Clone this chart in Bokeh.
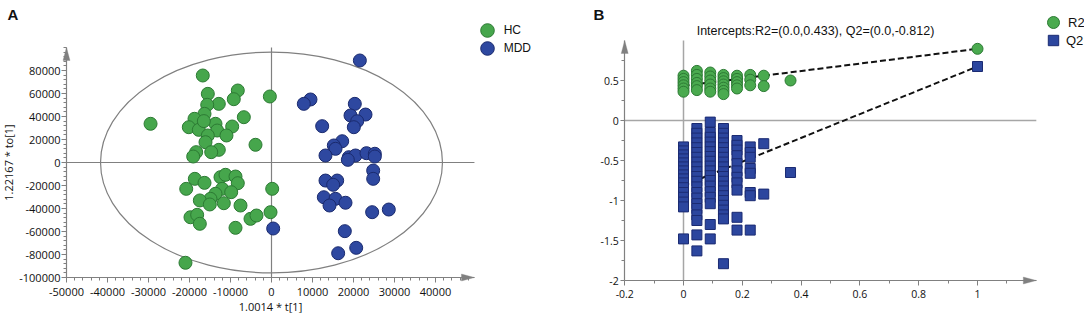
from bokeh.plotting import figure
from bokeh.layouts import row
from bokeh.models import (Range1d, FixedTicker, CustomJSTickFormatter, Label,
                          Legend, LegendItem, PolyAnnotation)
from bokeh.embed import file_html
from bokeh.resources import INLINE

# ---------------- Panel A data: OPLS-DA score plot ----------------
hc_t = [-16760, -29500, -15530, -8220, -9200, -12850, -15680, -16340, -18780, -6750,
        -400, -20170, -17730, -13660, -9590, -13250, -10980, -15530, -16100, -3900,
        -12850, -14700, -18370, -19100, -16500, -18700, -16340, -20800, -12440, -11220,
        -8780, -8220, -12030, -9830, -13660, -14880, -17480, -15050, -11630, -7560,
        -19760, -18130, -17480, -8780, -5120, -3660, 170, -240, -20980]
hc_to = [75650, 33650, 59700, 62600, 55050, 51000, 50150, 42300, 38000, 39400,
         57400, 30700, 28400, 33650, 31300, 27800, 23500, 23500, 17650, 15400,
         11000, 9000, 9000, 5200, 36000, -14200, -17700, -22900, -12750, -10700,
         -12200, -18000, -22900, -25800, -27200, -31600, -33000, -36500, -35400, -37400,
         -47600, -45500, -53300, -56800, -49000, -46100, -22900, -43200, -87200]
mdd_t = [410, 21550, 9510, 7880, 20320, 19270, 22930, 20900, 20080, 12360,
         17240, 15200, 15610, 13170, 18860, 20490, 23170, 25200, 18620, 25200,
         24800, 24800, 13170, 16020, 15040, 12760, 15610, 14150, 18050, 24550,
         28610, 17880, 20660, 16260]
mdd_to = [-57400, 88700, 54800, 51000, 51000, 40900, 41700, 35900, 30700, 31600,
          18500, 14800, 11900, 6100, 4600, 6100, 8100, 7600, 2300, 5200,
          -7000, -14200, -15700, -15700, -19400, -30200, -31600, -37400, -35000, -43200,
          -40900, -59700, -74200, -78900]
ellipse_t_halfwidth = 41700
ellipse_to_halfheight = 96000
a_xticks = [-50000, -40000, -30000, -20000, -10000, 0, 10000, 20000, 30000, 40000]
a_yticks = [-100000, -80000, -60000, -40000, -20000, 0, 20000, 40000, 60000, 80000]
a_xlabel = "1.0014 * t[1]"
a_ylabel = "1.22167 * to[1]"
a_groups = ["HC", "MDD"]

# ---------------- Panel B data: permutation test ----------------
perm_x = [0.0, 0.0455, 0.091, 0.136, 0.182, 0.227, 0.273, 0.364, 1.0]
r2_cols = [
    [0.56, 0.52, 0.48, 0.44, 0.40, 0.36],
    [0.62, 0.57, 0.52, 0.47, 0.43, 0.38],
    [0.60, 0.55, 0.50, 0.45, 0.40, 0.36],
    [0.57, 0.53, 0.49, 0.45, 0.41, 0.37, 0.33],
    [0.56, 0.52, 0.48, 0.44, 0.40],
    [0.57, 0.51, 0.44],
    [0.56, 0.43],
    [0.50],
    [0.896],
]
q2_cols = [
    [-0.33, -0.38, -0.43, -0.48, -0.53, -0.58, -0.63, -0.68, -0.73, -0.78, -0.84, -0.90,
     -0.96, -1.02, -1.08, -1.48],
    [-0.10, -0.16, -0.22, -0.28, -0.34, -0.40, -0.46, -0.52, -0.58, -0.64, -0.70, -0.76,
     -0.83, -0.90, -0.97, -1.04, -1.10, -1.18, -1.25, -1.43, -1.63],
    [-0.02, -0.15, -0.21, -0.27, -0.33, -0.39, -0.45, -0.51, -0.57, -0.63, -0.69, -0.75,
     -0.82, -0.89, -0.96, -1.04, -1.30, -1.48],
    [-0.10, -0.16, -0.22, -0.28, -0.34, -0.40, -0.46, -0.52, -0.58, -0.64, -0.70, -0.76,
     -0.82, -0.88, -0.94, -1.00, -1.06, -1.12, -1.18, -1.23, -1.79],
    [-0.25, -0.31, -0.37, -0.44, -0.54, -0.63, -0.71, -0.78, -0.87, -1.21, -1.37],
    [-0.33, -0.40, -0.46, -0.60, -0.66, -0.90, -0.94, -1.37],
    [-0.29, -0.92],
    [-0.65],
    [0.675],
]
r2_intercept = 0.433
q2_intercept = -0.812
b_title = "Intercepts:R2=(0.0,0.433), Q2=(0.0,-0.812)"
b_xticks = [-0.2, 0.0, 0.2, 0.4, 0.6, 0.8, 1.0]
b_xminor = [-0.1, 0.1, 0.3, 0.5, 0.7, 0.9, 1.1]
b_yticks = [-2.0, -1.5, -1.0, -0.5, 0.0, 0.5]
b_yminor = [-1.75, -1.25, -0.75, -0.25, 0.25, 0.75]
b_series = ["R2", "Q2"]

r2_x = [x for x, col in zip(perm_x, r2_cols) for _ in col]
r2_y = [v for col in r2_cols for v in col]
q2_x = [x for x, col in zip(perm_x, q2_cols) for _ in col]
q2_y = [v for col in q2_cols for v in col]

# ---------------- styles / layout ----------------
GRAY = "#808080"
GREEN = "#46A64C"
GREEN_EDGE = "#2C7A33"
BLUE = "#2E48A0"
BLUE_EDGE = "#1A2A6E"
TICK_FONT = "Open Sans"
TEXT_FONT = "Liberation Sans"
H = 319


def x_range_px(anchor_val, anchor_px, ppu, width):
    start = anchor_val - anchor_px / ppu
    return Range1d(start, start + width / ppu)


def y_range_px(anchor_val, anchor_px, ppu, height):
    top = anchor_val + anchor_px / ppu
    return Range1d(top - height / ppu, top)


def style_axis(ax, fs, standoff=3, tick_out=5):
    ax.axis_line_color = GRAY
    ax.axis_line_width = 1.2
    ax.major_tick_line_color = GRAY
    ax.minor_tick_line_color = GRAY
    ax.major_tick_out = tick_out
    ax.major_tick_in = 0
    ax.minor_tick_out = 3
    ax.minor_tick_in = 0
    ax.major_label_text_font = TICK_FONT
    ax.major_label_text_font_size = fs
    ax.major_label_text_color = "#111111"
    ax.major_label_standoff = standoff


def add_arrowheads(p, x0, x1, y0, y1, ux, uy, length=13, half=3.5):
    p.add_layout(PolyAnnotation(xs=[x0 - half * ux, x0, x0 + half * ux],
                                ys=[y1 - length * uy, y1, y1 - length * uy],
                                fill_color=GRAY, fill_alpha=1.0, line_color=GRAY))
    p.add_layout(PolyAnnotation(xs=[x1 - length * ux, x1, x1 - length * ux],
                                ys=[y0 - half * uy, y0, y0 + half * uy],
                                fill_color=GRAY, fill_alpha=1.0, line_color=GRAY))


def single_legend(label, renderer, cx, cy, glyph, standoff, fs):
    # cx, cy: glyph centre in figure pixels (from top-left)
    return Legend(items=[LegendItem(label=label, renderers=[renderer])],
                  location=(cx - glyph / 2, H - (cy - glyph / 2) - glyph),
                  glyph_width=glyph, glyph_height=glyph, label_standoff=standoff,
                  padding=0, margin=0, border_line_color=None, background_fill_alpha=0,
                  label_text_font=TEXT_FONT, label_text_font_size=fs,
                  label_text_color="#111111", label_height=glyph)


def make_fig(w, xr, yr):
    p = figure(width=w, height=H, x_range=xr, y_range=yr, title=None,
               output_backend="svg", toolbar_location=None,
               min_border=0, min_border_left=0, min_border_right=0,
               min_border_top=0, min_border_bottom=0)
    p.grid.visible = False
    p.outline_line_color = None
    p.background_fill_color = "white"
    p.border_fill_color = "white"
    return p


# ================= Panel A =================
A_W = 540
ax0, ax1 = -50000, 49500
ay0, ay1 = -100000, 100000
a_ppx = 41 / 10000.0    # px per data unit (x)
a_ppy = 23 / 20000.0    # px per data unit (y)
pA = make_fig(A_W, x_range_px(0, 271, a_ppx, A_W), y_range_px(0, 162, a_ppy, H))

pA.xaxis.ticker = FixedTicker(ticks=a_xticks,
                              minor_ticks=list(range(-50000, 48001, 2000)))
pA.yaxis.ticker = FixedTicker(ticks=a_yticks,
                              minor_ticks=list(range(-100000, 100001, 4000)))
fmtA = CustomJSTickFormatter(code="return tick.toFixed(0);")
pA.xaxis.formatter = fmtA
pA.yaxis.formatter = fmtA
style_axis(pA.xaxis[0], "11px", standoff=5)
style_axis(pA.yaxis[0], "11px", standoff=1)
for ax in (pA.xaxis[0], pA.yaxis[0]):
    ax.axis_label_text_font = TICK_FONT
    ax.axis_label_text_font_size = "11px"
    ax.axis_label_text_font_style = "normal"
    ax.axis_label_text_color = "#111111"
pA.xaxis.axis_label = a_xlabel
pA.yaxis.axis_label = a_ylabel
pA.xaxis.axis_label_standoff = 0
pA.yaxis.axis_label_standoff = 0
pA.xaxis.fixed_location = ay0
pA.yaxis.fixed_location = ax0
pA.xaxis.bounds = (ax0, ax1)
pA.yaxis.bounds = (ay0, ay1)

pA.segment(x0=[0, ax0], y0=[ay0, 0], x1=[0, ax1], y1=[ay1, 0], line_color=GRAY,
           line_width=1.2)
pA.ellipse(x=[0], y=[0], width=[2 * ellipse_t_halfwidth], height=[2 * ellipse_to_halfheight],
           fill_color=None, line_color=GRAY, line_width=1.2)
rHC = pA.scatter(x=hc_t, y=hc_to, marker="circle", size=13, fill_color=GREEN,
                 line_color=GREEN_EDGE, line_width=1)
rMDD = pA.scatter(x=mdd_t, y=mdd_to, marker="circle", size=13, fill_color=BLUE,
                  line_color=BLUE_EDGE, line_width=1)
add_arrowheads(pA, ax0, ax1, ay0, ay1, 1 / a_ppx, 1 / a_ppy)

pA.add_layout(single_legend(a_groups[0], rHC, 486.7, 30, 34, -4, "12px"))
pA.add_layout(single_legend(a_groups[1], rMDD, 486.7, 48.3, 34, -4, "12px"))

pA.add_layout(Label(x=7, y=H - 5, x_units="screen", y_units="screen", text="A",
                    text_font=TEXT_FONT, text_font_style="bold", text_font_size="15px",
                    text_baseline="top", text_color="#111111"))

# ================= Panel B =================
B_W = 544
bx0, bx1 = -0.2, 1.2
by0, by1 = -2.0, 1.0
b_ppx = 294.0
b_ppy = 80.0
pB = make_fig(B_W, x_range_px(0, 683 - 540, b_ppx, B_W), y_range_px(0, 120, b_ppy, H))
pB.xaxis.ticker = FixedTicker(ticks=b_xticks, minor_ticks=b_xminor)
pB.yaxis.ticker = FixedTicker(ticks=b_yticks, minor_ticks=b_yminor)
fmtB = CustomJSTickFormatter(code="return String(Math.round(tick * 10) / 10);")
pB.xaxis.formatter = fmtB
pB.yaxis.formatter = fmtB
style_axis(pB.xaxis[0], "10.5px", standoff=4)
style_axis(pB.yaxis[0], "10.5px", standoff=2, tick_out=4)
pB.xaxis.fixed_location = by0
pB.yaxis.fixed_location = bx0
pB.xaxis.bounds = (bx0, bx1)
pB.yaxis.bounds = (by0, by1)

pB.segment(x0=[0, bx0], y0=[by0, 0], x1=[0, bx1], y1=[by1, 0], line_color="#a6a6a6",
           line_width=1.5)
pB.line(x=[0, perm_x[-1]], y=[r2_intercept, r2_cols[-1][0]], line_color="#111111",
        line_width=2, line_dash="6 3")
pB.line(x=[0, perm_x[-1]], y=[q2_intercept, q2_cols[-1][0]], line_color="#111111",
        line_width=2, line_dash="6 3")
rR2 = pB.scatter(x=r2_x, y=r2_y, marker="circle", size=11, fill_color="#4AAA4F",
                 line_color="#2C7A33", line_width=1)
rQ2 = pB.scatter(x=q2_x, y=q2_y, marker="square", size=10, fill_color="#2C469E",
                 line_color="#1B2B72", line_width=1)
add_arrowheads(pB, bx0, bx1, by0, by1, 1 / b_ppx, 1 / b_ppy)

pB.add_layout(single_legend(b_series[0], rR2, 1053 - 540, 22, 30, -5, "13px"))
pB.add_layout(single_legend(b_series[1], rQ2, 1053 - 540, 40, 26, -3, "13px"))

pB.add_layout(Label(x=593 - 540, y=H - 5, x_units="screen", y_units="screen", text="B",
                    text_font=TEXT_FONT, text_font_style="bold", text_font_size="15px",
                    text_baseline="top", text_color="#111111"))
pB.add_layout(Label(x=815 - 540, y=H - 30, x_units="screen", y_units="screen", text=b_title,
                    text_font=TEXT_FONT, text_font_size="12.5px", text_align="center",
                    text_baseline="middle", text_color="#111111"))

layout = row(pA, pB, spacing=0)
open("out.html", "w").write(file_html(layout, INLINE))
